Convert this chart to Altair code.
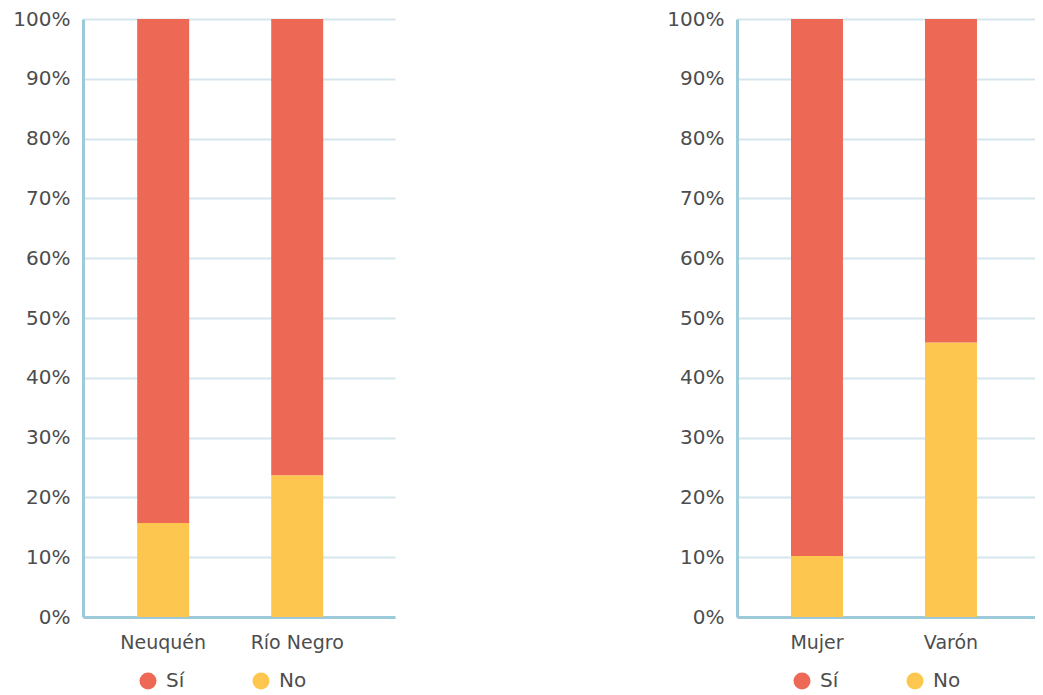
import altair as alt
import pandas as pd

regions = ["Neuquén", "Río Negro"]
region_no = [15.7, 23.7]
genders = ["Mujer", "Varón"]
gender_no = [10.2, 45.9]
answers = ["Sí", "No"]
colors = ["#EE6856", "#FDC74F"]

FONT = "DejaVu Sans"
TXT = "#4D4D4D"


def make_df(cats, no_vals):
    rows = []
    for c, n in zip(cats, no_vals):
        rows.append({"cat": c, "resp": "No", "val": n / 100, "ord": 0})
        rows.append({"cat": c, "resp": "Sí", "val": (100 - n) / 100, "ord": 1})
    return pd.DataFrame(rows)


def panel(cats, no_vals, width, po, align):
    df = make_df(cats, no_vals)
    return (
        alt.Chart(df)
        .mark_bar()
        .encode(
            x=alt.X(
                "cat:N",
                sort=cats,
                title=None,
                scale=alt.Scale(paddingInner=0.612, paddingOuter=po, align=align),
                axis=alt.Axis(
                    labelAngle=0,
                    labelFontSize=19,
                    labelPadding=16,
                    ticks=False,
                    domainColor="#9CCAD9",
                    domainWidth=3,
                    grid=False,
                ),
            ),
            y=alt.Y(
                "val:Q",
                stack="zero",
                title=None,
                scale=alt.Scale(domain=[0, 1], nice=False),
                axis=alt.Axis(
                    format=".0%",
                    values=[i / 10 for i in range(11)],
                    labelFontSize=20,
                    labelPadding=13,
                    ticks=False,
                    domainColor="#9CCAD9",
                    domainWidth=3,
                    gridColor="#D5E6EE",
                    gridWidth=2,
                ),
            ),
            color=alt.Color(
                "resp:N",
                scale=alt.Scale(domain=answers, range=colors),
                title=None,
                legend=alt.Legend(
                    orient="none",
                    legendX=55,
                    legendY=652,
                    direction="horizontal",
                    symbolType="circle",
                    symbolSize=289,
                    symbolStrokeWidth=0,
                    labelFontSize=20,
                    labelOffset=8,
                    columnPadding=66,
                ),
            ),
            order=alt.Order("ord:Q", sort="ascending"),
        )
        .properties(width=width, height=598)
    )


left = panel(regions, region_no, 312, 0.47, 0.43)
right = panel(genders, gender_no, 298, 0.418, 0.482)

chart = (
    alt.hconcat(left, right, spacing=271)
    .resolve_scale(color="independent")
    .configure(padding={"left": 4, "top": 1, "right": 0, "bottom": 0})
    .configure_view(stroke=None)
    .configure_axis(labelFont=FONT, labelColor=TXT)
    .configure_legend(labelFont=FONT, labelColor=TXT)
)

chart.save("out.html", embed_options={"renderer": "svg", "actions": False})
